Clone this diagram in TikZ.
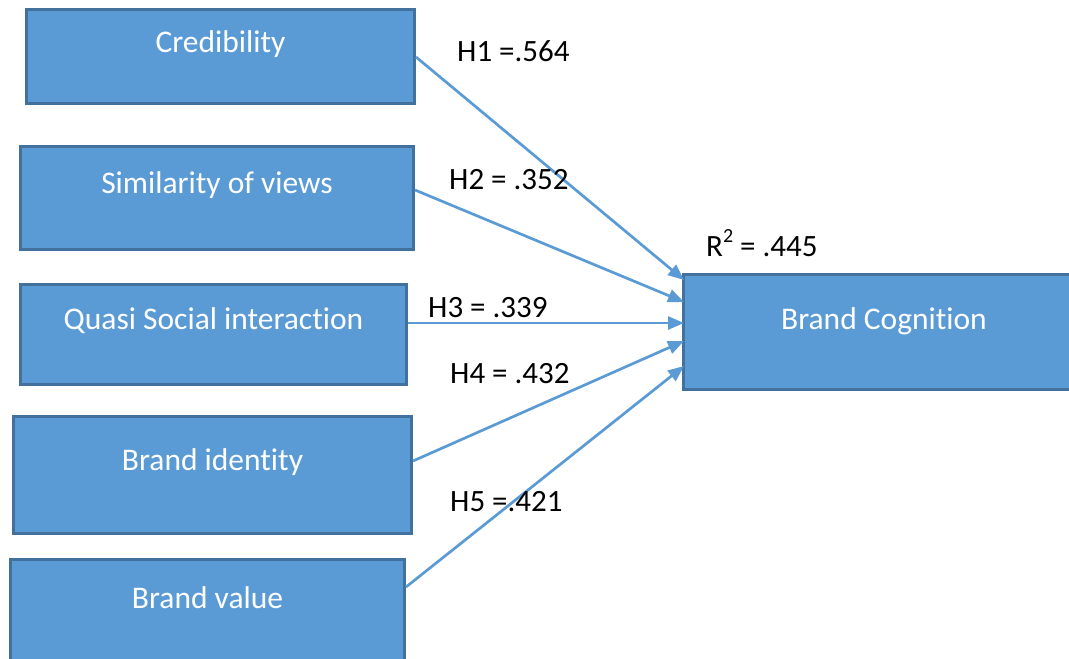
\documentclass[tikz,border=0pt]{standalone}
\usepackage{fontspec}
\setmainfont{Carlito}[RawFeature=-liga]
\usetikzlibrary{arrows.meta,calc}
\definecolor{boxfill}{HTML}{5B9BD5}
\definecolor{boxline}{HTML}{41719C}
\tikzset{
  box/.style={rectangle, draw=boxline, fill=boxfill, line width=3pt, inner sep=0pt, anchor=north west},
  wtxt/.style={text=white, font=\fontsize{31.5}{36}\selectfont, inner sep=0pt},
  lbl/.style={text=black, font=\fontsize{31}{36}\selectfont, inner sep=0pt, anchor=west},
  link/.style={draw=boxfill, line width=2.7pt, -{Triangle[length=16pt,width=13pt]}, shorten >=0pt},
}
\begin{document}
\begin{tikzpicture}[x=1pt,y=-1pt]
\useasboundingbox (0,0) rectangle (1069,659);
% boxes
\node[box, minimum width=388, minimum height=94] (cred) at (25,8) {};
\node[box, minimum width=393, minimum height=103] (sim) at (19,145) {};
\node[box, minimum width=386, minimum height=100] (quasi) at (19,283) {};
\node[box, minimum width=398, minimum height=117] (ident) at (12,415) {};
\node[box, minimum width=394, minimum height=110] (value) at (9,558) {};
\node[box, minimum width=395, minimum height=115] (cog) at (682,273) {};
% box texts
\node[wtxt] at ($(cred.north)+(0,36)$) {Credibility};
\node[wtxt] at ($(sim.north)+(0,40)$) {Similarity of views};
\node[wtxt] at ($(quasi.north)+(0,38)$) {Quasi Social interaction};
\node[wtxt] at ($(ident.north)+(0,47)$) {Brand identity};
\node[wtxt] at ($(value.north)+(0,40)$) {Brand value};
\node[wtxt] at (884,321) {Brand Cognition};
% connector end points
\coordinate (s1) at ($(cred.north east)+(0,49)$);
\coordinate (s2) at ($(sim.north east)+(0,45)$);
\coordinate (s3) at ($(quasi.north east)+(0,40)$);
\coordinate (s4) at ($(ident.north east)+(0,46)$);
\coordinate (s5) at ($(value.north east)+(0,29)$);
\coordinate (e1) at ($(cog.north west)+(2,7)$);
\coordinate (e2) at ($(cog.north west)+(2,29)$);
\coordinate (e3) at ($(cog.north west)+(2,50)$);
\coordinate (e4) at ($(cog.north west)+(2,68)$);
\coordinate (e5) at ($(cog.north west)+(2,93)$);
\draw[link] (s1) -- (e1);
\draw[link] (s2) -- (e2);
\draw[link] (s3) -- (e3);
\draw[link] (s4) -- (e4);
\draw[link] (s5) -- (e5);
% labels
\node[lbl] at (457,51) {H1 =.564};
\node[lbl] at (449,180) {H2 = .352};
\node[lbl] at (706,243) {R\raisebox{0.45em}{\fontsize{20}{24}\selectfont 2} = .445};
\node[lbl] at (428,308) {H3 = .339};
\node[lbl] at (450,374) {H4 = .432};
\node[lbl] at (450,502) {H5 =.421};
\end{tikzpicture}
\end{document}
